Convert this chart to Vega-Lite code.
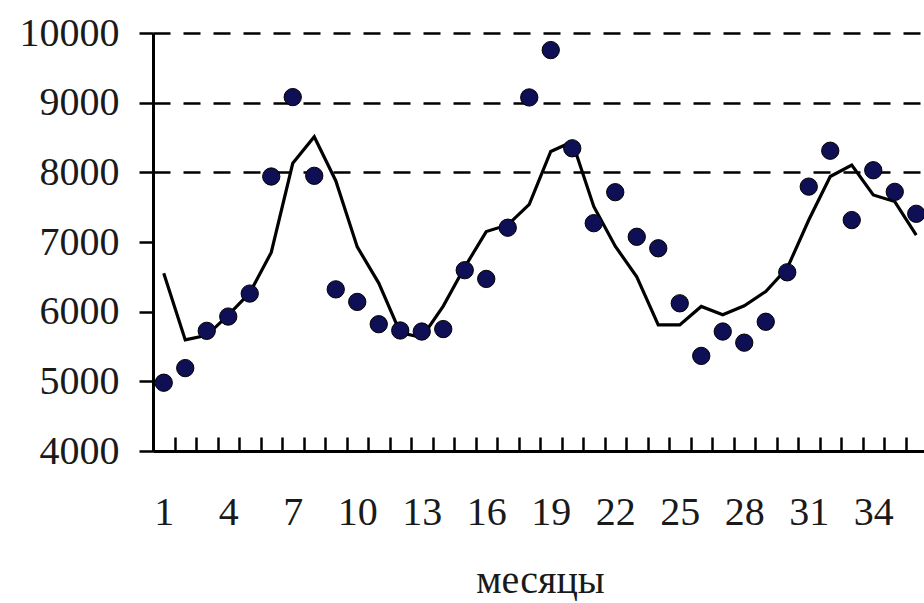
{
  "$schema": "https://vega.github.io/schema/vega-lite/v6.json",
  "autosize": {"type": "none"},
  "padding": {"left": 153, "top": 33, "right": 0, "bottom": 152},
  "width": 774,
  "height": 418,
  "background": "white",
  "config": {"view": {"stroke": null}},
  "data": {"values": [
    {"month": 1, "actual": 4980, "fitted": 6550},
    {"month": 2, "actual": 5190, "fitted": 5595},
    {"month": 3, "actual": 5725, "fitted": 5660},
    {"month": 4, "actual": 5930, "fitted": 5950},
    {"month": 5, "actual": 6260, "fitted": 6270},
    {"month": 6, "actual": 7940, "fitted": 6850},
    {"month": 7, "actual": 9080, "fitted": 8130},
    {"month": 8, "actual": 7950, "fitted": 8510},
    {"month": 9, "actual": 6320, "fitted": 7880},
    {"month": 10, "actual": 6140, "fitted": 6930},
    {"month": 11, "actual": 5820, "fitted": 6410},
    {"month": 12, "actual": 5730, "fitted": 5700},
    {"month": 13, "actual": 5715, "fitted": 5630},
    {"month": 14, "actual": 5750, "fitted": 6080},
    {"month": 15, "actual": 6595, "fitted": 6640},
    {"month": 16, "actual": 6470, "fitted": 7150},
    {"month": 17, "actual": 7205, "fitted": 7245},
    {"month": 18, "actual": 9075, "fitted": 7540},
    {"month": 19, "actual": 9755, "fitted": 8300},
    {"month": 20, "actual": 8345, "fitted": 8440},
    {"month": 21, "actual": 7270, "fitted": 7510},
    {"month": 22, "actual": 7715, "fitted": 6940},
    {"month": 23, "actual": 7075, "fitted": 6500},
    {"month": 24, "actual": 6910, "fitted": 5810},
    {"month": 25, "actual": 6120, "fitted": 5810},
    {"month": 26, "actual": 5365, "fitted": 6075},
    {"month": 27, "actual": 5715, "fitted": 5955},
    {"month": 28, "actual": 5555, "fitted": 6085},
    {"month": 29, "actual": 5855, "fitted": 6290},
    {"month": 30, "actual": 6565, "fitted": 6625},
    {"month": 31, "actual": 7795, "fitted": 7315},
    {"month": 32, "actual": 8310, "fitted": 7940},
    {"month": 33, "actual": 7315, "fitted": 8105},
    {"month": 34, "actual": 8030, "fitted": 7675},
    {"month": 35, "actual": 7720, "fitted": 7580},
    {"month": 36, "actual": 7405, "fitted": 7100}
  ]},
  "encoding": {
    "x": {
      "field": "month",
      "type": "ordinal",
      "scale": {"type": "band", "paddingInner": 0, "paddingOuter": 0},
      "axis": {
        "title": "месяцы",
        "labelAngle": 0,
        "labelExpr": "(datum.value - 1) % 3 == 0 ? datum.label : ''",
        "labelFont": "Liberation Serif",
        "labelFontSize": 40,
        "labelColor": "#1a1a1a",
        "labelPadding": 55,
        "tickBand": "extent",
        "tickSize": -14,
        "tickWidth": 2.5,
        "tickColor": "black",
        "domainColor": "black",
        "domainWidth": 3,
        "grid": false,
        "titleFont": "Liberation Serif",
        "titleFontSize": 40,
        "titleFontWeight": "normal",
        "titleColor": "#1a1a1a",
        "titleBaseline": "alphabetic",
        "titleY": 141
      }
    }
  },
  "layer": [
    {
      "mark": {"type": "line", "color": "black", "strokeWidth": 3.2},
      "encoding": {
        "y": {
          "field": "fitted",
          "type": "quantitative",
          "scale": {"domain": [4000, 10000], "nice": false, "zero": false},
          "axis": {
            "title": null,
            "format": "d",
            "values": [4000, 5000, 6000, 7000, 8000, 9000, 10000],
            "labelFont": "Liberation Serif",
            "labelFontSize": 40,
            "labelColor": "#1a1a1a",
            "labelPadding": 20,
            "tickSize": 14,
            "tickWidth": 2.5,
            "tickColor": "black",
            "domainColor": "black",
            "domainWidth": 3,
            "grid": true,
            "gridColor": "black",
            "gridWidth": 2.5,
            "gridDash": [17, 13],
            "gridOpacity": {"condition": {"test": "datum.value >= 8000", "value": 1}, "value": 0}
          }
        }
      }
    },
    {
      "mark": {"type": "point", "filled": true, "color": "#0f0f55", "size": 300, "stroke": "black", "strokeWidth": 1, "opacity": 1},
      "encoding": {
        "y": {"field": "actual", "type": "quantitative"}
      }
    }
  ]
}
